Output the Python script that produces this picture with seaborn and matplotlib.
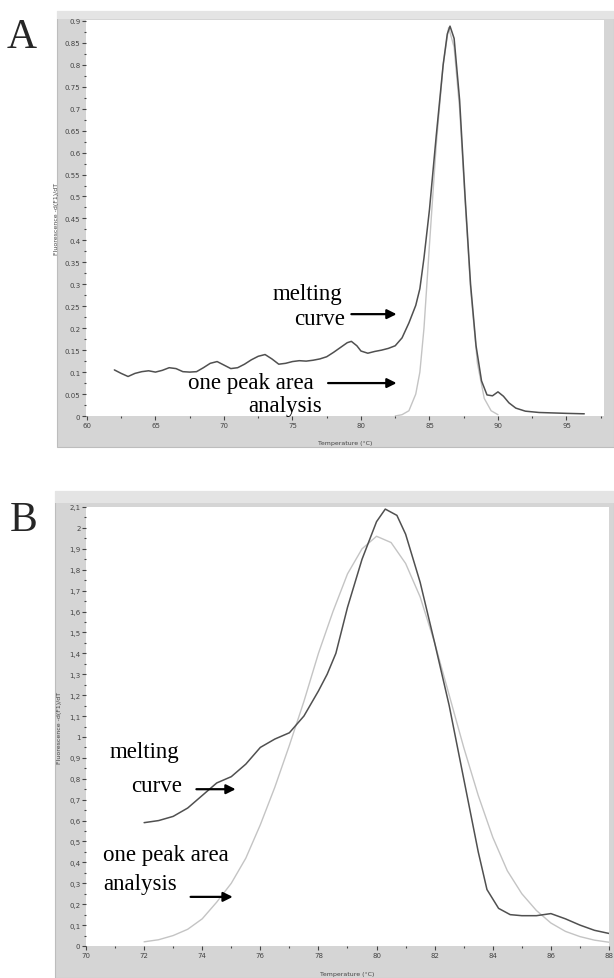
import numpy as np
import seaborn as sns
import matplotlib.pyplot as plt
from matplotlib.patches import Rectangle
from matplotlib.ticker import MultipleLocator, FuncFormatter

# ---- panel A data ----
melt_a_temp = [62.0, 62.5, 63.0, 63.5, 64.0, 64.5, 65.0, 65.5, 66.0, 66.5, 67.0, 67.5,
               68.0, 68.5, 69.0, 69.5, 70.0, 70.5, 71.0, 71.5, 72.0, 72.5, 73.0, 73.5,
               74.0, 74.5, 75.0, 75.5, 76.0, 76.5, 77.0, 77.5, 78.0, 78.5, 79.0, 79.3,
               79.7, 80.0, 80.5, 81.0, 81.5, 82.0, 82.5, 83.0, 83.5, 84.0, 84.3, 84.6,
               85.0, 85.5, 86.0, 86.3, 86.5, 86.8, 87.2, 87.6, 88.0, 88.4, 88.8, 89.2,
               89.6, 90.0, 90.4, 90.8, 91.3, 92.0, 93.0, 94.0, 95.0, 96.3]
melt_a_val = [0.105, 0.097, 0.090, 0.097, 0.101, 0.103, 0.100, 0.104, 0.110, 0.108, 0.101, 0.100,
              0.101, 0.110, 0.120, 0.124, 0.116, 0.108, 0.110, 0.118, 0.128, 0.136, 0.140, 0.130,
              0.118, 0.120, 0.124, 0.126, 0.125, 0.127, 0.130, 0.135, 0.145, 0.156, 0.167, 0.170,
              0.160, 0.148, 0.143, 0.147, 0.150, 0.154, 0.160, 0.178, 0.212, 0.252, 0.290, 0.360,
              0.470, 0.640, 0.800, 0.870, 0.888, 0.860, 0.720, 0.500, 0.300, 0.160, 0.080, 0.048,
              0.046, 0.055, 0.045, 0.030, 0.018, 0.011, 0.008, 0.007, 0.006, 0.005]

peak_a_temp = [82.5, 83.0, 83.5, 84.0, 84.3, 84.6, 85.0, 85.5, 86.0, 86.4, 86.8, 87.2,
               87.6, 88.0, 88.5, 89.0, 89.5, 90.0]
peak_a_val = [0.000, 0.003, 0.012, 0.050, 0.100, 0.200, 0.390, 0.620, 0.800, 0.885, 0.840, 0.700,
              0.490, 0.290, 0.120, 0.040, 0.012, 0.003]

# ---- panel B data ----
melt_b_temp = [72.0, 72.5, 73.0, 73.5, 74.0, 74.5, 75.0, 75.5, 76.0, 76.5, 77.0, 77.5,
               78.0, 78.3, 78.6, 79.0, 79.5, 80.0, 80.3, 80.7, 81.0, 81.5, 82.0, 82.5,
               83.0, 83.5, 83.8, 84.2, 84.6, 85.0, 85.5, 86.0, 86.5, 87.0, 87.5, 88.0]
melt_b_val = [0.59, 0.60, 0.62, 0.66, 0.72, 0.78, 0.81, 0.87, 0.95, 0.99, 1.02, 1.10,
              1.22, 1.30, 1.40, 1.62, 1.85, 2.03, 2.09, 2.06, 1.97, 1.74, 1.45, 1.15,
              0.80, 0.45, 0.27, 0.18, 0.15, 0.145, 0.145, 0.155, 0.13, 0.10, 0.075, 0.06]

peak_b_temp = [72.0, 72.5, 73.0, 73.5, 74.0, 74.5, 75.0, 75.5, 76.0, 76.5, 77.0, 77.5,
               78.0, 78.5, 79.0, 79.5, 80.0, 80.5, 81.0, 81.5, 82.0, 82.5, 83.0, 83.5,
               84.0, 84.5, 85.0, 85.5, 86.0, 86.5, 87.0, 87.5, 88.0]
peak_b_val = [0.02, 0.03, 0.05, 0.08, 0.13, 0.21, 0.30, 0.42, 0.58, 0.76, 0.96, 1.17,
              1.40, 1.60, 1.78, 1.90, 1.96, 1.93, 1.83, 1.67, 1.45, 1.20, 0.95, 0.72,
              0.52, 0.36, 0.25, 0.17, 0.11, 0.07, 0.045, 0.028, 0.018]

W, H = 614, 979
DARK = '#505050'
LIGHT = '#c4c4c4'
FRAME = '#d5d5d5'

sns.set_style('white')
plt.rcParams['font.family'] = ['DejaVu Sans']

fig = plt.figure(figsize=(W / 100, H / 100), dpi=100)


def px_rect(x0, y0, x1, y1):
    return [x0 / W, 1 - y1 / H, (x1 - x0) / W, (y1 - y0) / H]


def frame(x0, y0, x1, y1, band):
    r = px_rect(x0, y0, x1, y1)
    fig.add_artist(Rectangle((r[0], r[1]), r[2], r[3], transform=fig.transFigure,
                             facecolor=FRAME, edgecolor='#bdbdbd', lw=0.8, zorder=-5))
    b = px_rect(x0, y0, x1, y0 + band)
    fig.add_artist(Rectangle((b[0], b[1]), b[2], b[3], transform=fig.transFigure,
                             facecolor='#e4e4e4', edgecolor='none', zorder=-4))


frame(57, 12, 614, 448, 8)
frame(55, 492, 614, 979, 12)


def style_axes(ax, comma):
    for s in ax.spines.values():
        s.set_visible(False)
    ax.set_facecolor('white')
    ax.tick_params(which='major', direction='out', length=3, width=0.8, color='#444444',
                   labelsize=5, labelcolor='#444444', pad=1, left=True, bottom=True)
    ax.tick_params(which='minor', direction='out', length=1.5, width=0.8, color='#444444',
                   left=True, bottom=True)
    fmt = (lambda v, p: ('%g' % round(v, 3)).replace('.', ',')) if comma else \
        (lambda v, p: '%g' % round(v, 3))
    ax.yaxis.set_major_formatter(FuncFormatter(fmt))
    ax.set_xlabel('Temperature (°C)', fontsize=4.5, color='#444444')
    ax.set_ylabel('Fluorescence -d(F1)/dT', fontsize=4.5, color='#444444')


serif = dict(family='Liberation Serif', fontsize=16.5, color='black')
arrow = dict(arrowstyle='-|>', color='black', lw=1.6, mutation_scale=14, shrinkA=0, shrinkB=0)

# ---- panel A ----
axA = fig.add_axes(px_rect(86, 21, 604, 417))
sns.lineplot(x=peak_a_temp, y=peak_a_val, ax=axA, color=LIGHT, linewidth=1.0, sort=False)
sns.lineplot(x=melt_a_temp, y=melt_a_val, ax=axA, color=DARK, linewidth=1.1, sort=False)
axA.set_xlim(59.93, 97.74)
axA.set_ylim(0, 0.902)
axA.xaxis.set_major_locator(MultipleLocator(5))
axA.xaxis.set_minor_locator(MultipleLocator(2.5))
axA.yaxis.set_major_locator(MultipleLocator(0.05))
axA.yaxis.set_minor_locator(MultipleLocator(0.025))
style_axes(axA, comma=False)
axA.xaxis.set_label_coords(0.5, -0.06)
axA.yaxis.set_label_coords(-0.052, 0.5)

axA.text(76.1, 0.278, 'melting', ha='center', va='center', **serif)
axA.text(78.8, 0.222, 'curve', ha='right', va='center', **serif)
axA.annotate('', xy=(82.6, 0.232), xytext=(79.3, 0.232), arrowprops=arrow)
axA.text(72.0, 0.077, 'one peak area', ha='center', va='center', **serif)
axA.text(74.5, 0.025, 'analysis', ha='center', va='center', **serif)
axA.annotate('', xy=(82.6, 0.075), xytext=(77.6, 0.075), arrowprops=arrow)

# ---- panel B ----
axB = fig.add_axes(px_rect(86, 508, 609, 947))
sns.lineplot(x=peak_b_temp, y=peak_b_val, ax=axB, color=LIGHT, linewidth=1.0, sort=False)
sns.lineplot(x=melt_b_temp, y=melt_b_val, ax=axB, color=DARK, linewidth=1.1, sort=False)
axB.set_xlim(70, 88)
axB.set_ylim(0, 2.1)
axB.xaxis.set_major_locator(MultipleLocator(2))
axB.xaxis.set_minor_locator(MultipleLocator(1))
axB.yaxis.set_major_locator(MultipleLocator(0.1))
axB.yaxis.set_minor_locator(MultipleLocator(0.05))
style_axes(axB, comma=True)
axB.xaxis.set_label_coords(0.5, -0.057)
axB.yaxis.set_label_coords(-0.046, 0.5)

axB.text(70.8, 0.93, 'melting', ha='left', va='center', **serif)
axB.text(73.3, 0.77, 'curve', ha='right', va='center', **serif)
axB.annotate('', xy=(75.15, 0.75), xytext=(73.8, 0.75), arrowprops=arrow)
axB.text(70.6, 0.44, 'one peak area', ha='left', va='center', **serif)
axB.text(70.6, 0.30, 'analysis', ha='left', va='center', **serif)
axB.annotate('', xy=(75.05, 0.235), xytext=(73.6, 0.235), arrowprops=arrow)

# panel letters
fig.text(22 / W, 1 - 38 / H, 'A', ha='center', va='center', family='Liberation Serif',
         fontsize=30)
fig.text(24 / W, 1 - 521 / H, 'B', ha='center', va='center', family='Liberation Serif',
         fontsize=30)

fig.savefig('out.png', dpi=100)
